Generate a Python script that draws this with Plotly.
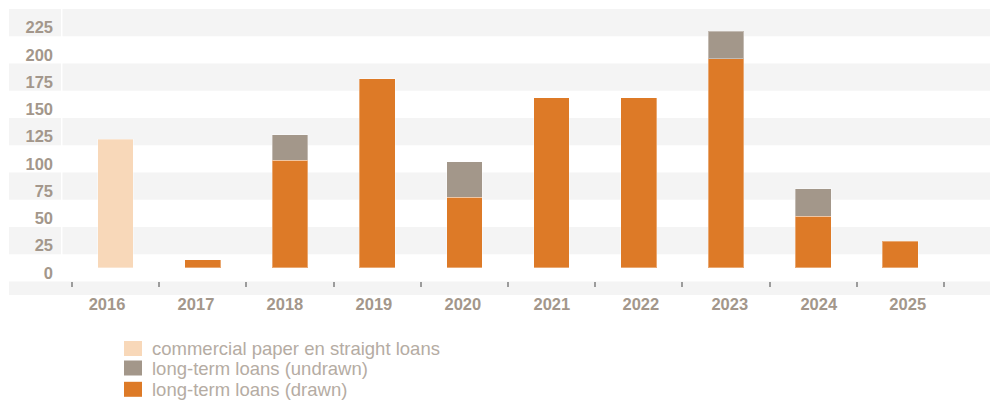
import plotly.graph_objects as go

# Maturity profile of financing, EUR million per year
years = ["2016", "2017", "2018", "2019", "2020", "2021", "2022", "2023", "2024", "2025"]
commercial_paper = [118, None, None, None, None, None, None, None, None, None]
loans_drawn = [None, 7.5, 98.5, 173.5, 64.5, 156, 156, 192, 47.5, 24.5]
loans_undrawn = [None, None, 23.5, None, 33, None, None, 25, 25, None]

series_names = [
    "commercial paper en straight loans",
    "long-term loans (undrawn)",
    "long-term loans (drawn)",
]
y_ticks = [0, 25, 50, 75, 100, 125, 150, 175, 200, 225]

C_PAPER = "#f8d8b9"
C_UNDRAWN = "#a3978a"
C_DRAWN = "#dd7a27"
C_BAND = "#f4f4f4"
C_AXIS_TEXT = "#a3978b"
C_LEGEND_TEXT = "#b5aca3"

W, H = 990, 400
M_L, M_R, M_T, M_B = 62, 0, 9, 105
PLOT_W = W - M_L - M_R
PLOT_H = H - M_T - M_B
Y_MIN, Y_MAX = -25, 237.5


def px_x(px):
    """Pixel column -> paper x."""
    return (px - M_L) / PLOT_W


def px_y(py):
    """Pixel row -> paper y."""
    return (H - M_B - py) / PLOT_H


edge = dict(width=1, color="rgba(255,255,255,0.35)")
bar_w = 0.41

fig = go.Figure()
fig.add_trace(go.Bar(x=years, y=commercial_paper, name=series_names[0],
                     marker=dict(color=C_PAPER, line=edge), width=bar_w))
fig.add_trace(go.Bar(x=years, y=loans_drawn, name=series_names[2],
                     marker=dict(color=C_DRAWN, line=edge), width=bar_w))
fig.add_trace(go.Bar(x=years, y=loans_undrawn, name=series_names[1],
                     marker=dict(color=C_UNDRAWN, line=edge), width=bar_w))
# empty trace that puts the year-label axis on the page
fig.add_trace(go.Scatter(x=list(range(len(years))), y=[None] * len(years),
                         xaxis="x2", mode="markers", hoverinfo="skip",
                         showlegend=False))

# alternating horizontal bands behind the bars, centred on the tick values
shapes = []
for v in y_ticks:
    if (v // 25) % 2 == 1:
        shapes.append(dict(type="rect", xref="paper", yref="y", layer="below",
                           x0=px_x(9), x1=px_x(61), y0=v - 12.5, y1=v + 12.5,
                           fillcolor=C_BAND, line=dict(width=0)))
        shapes.append(dict(type="rect", xref="paper", yref="y", layer="below",
                           x0=px_x(62.5), x1=1, y0=v - 12.5, y1=v + 12.5,
                           fillcolor=C_BAND, line=dict(width=0)))
# strip carrying the category ticks
shapes.append(dict(type="rect", xref="paper", yref="y", layer="below",
                   x0=px_x(9), x1=1, y0=Y_MIN, y1=-12.5,
                   fillcolor=C_BAND, line=dict(width=0)))

# legend swatches and labels
legend_rows = [(series_names[0], C_PAPER, 348.5),
               (series_names[1], C_UNDRAWN, 368.0),
               (series_names[2], C_DRAWN, 389.3)]
annotations = []
for name, col, cy in legend_rows:
    shapes.append(dict(type="rect", xref="paper", yref="paper",
                       x0=px_x(124), x1=px_x(142), y0=px_y(cy - 7.5), y1=px_y(cy + 7.5),
                       fillcolor=col, line=dict(width=0)))
    annotations.append(dict(text=name, xref="paper", yref="paper",
                            x=px_x(150), y=px_y(cy), xanchor="left", yanchor="middle",
                            showarrow=False,
                            font=dict(family="Liberation Sans, Arial, sans-serif",
                                      size=18.5, color=C_LEGEND_TEXT)))

tick_font = dict(family="Liberation Sans, Arial, sans-serif", size=16.5,
                 color=C_AXIS_TEXT, weight="bold")

x_axis_pos = 12.5 / (Y_MAX - Y_MIN)

fig.update_layout(
    width=W, height=H,
    margin=dict(l=M_L, r=M_R, t=M_T, b=M_B, pad=0),
    paper_bgcolor="white", plot_bgcolor="white",
    barmode="stack",
    showlegend=False,
    shapes=shapes,
    annotations=annotations,
    # category axis: carries the bars and the boundary ticks
    xaxis=dict(
        type="category",
        range=[-0.6147, 10.028],
        anchor="free",
        position=x_axis_pos,
        showgrid=False, zeroline=False, showline=False,
        ticks="outside", tickson="boundaries", ticklen=5, tickwidth=1.5,
        tickcolor="#9c9c9c",
        showticklabels=False,
    ),
    # year labels, set on a slightly wider pitch than the bars
    xaxis2=dict(
        overlaying="x",
        range=[-0.5058, 9.9247],
        anchor="free",
        position=x_axis_pos,
        showgrid=False, zeroline=False, showline=False,
        ticks="",
        tickmode="array",
        tickvals=list(range(len(years))),
        ticktext=years,
        ticklabelstandoff=11,
        tickfont=tick_font,
        side="bottom",
    ),
    yaxis=dict(
        range=[Y_MIN, Y_MAX],
        tickvals=y_ticks,
        ticktext=[str(v) for v in y_ticks],
        showgrid=False, zeroline=False, showline=False,
        ticks="",
        ticklabelshift=5,
        ticklabelstandoff=8,
        tickfont=tick_font,
    ),
)

fig.write_html("out.html")
